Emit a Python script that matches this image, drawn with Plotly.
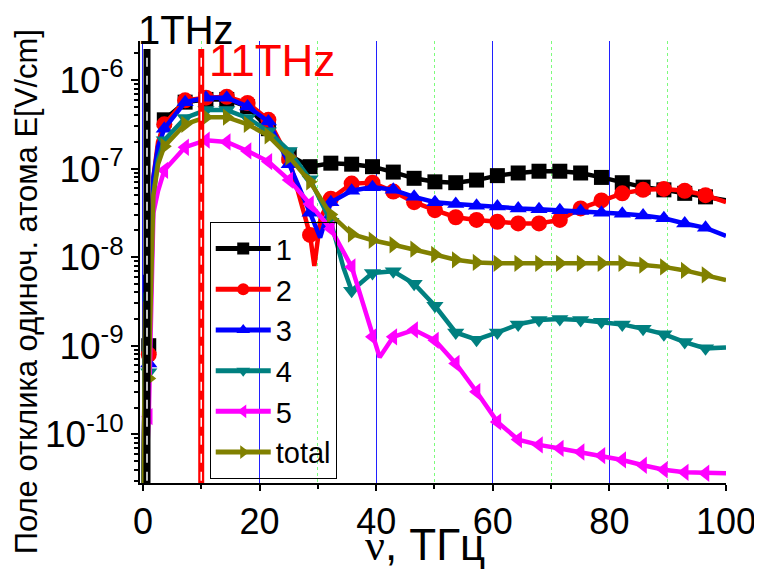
import plotly.graph_objects as go

# ---------------- data ----------------
X_GRID = [3.67, 7.24, 10.81, 14.38, 17.95, 21.52, 25.09, 28.66, 32.23, 35.80,
          39.37, 42.94, 46.51, 50.08, 53.65, 57.22, 60.79, 64.36, 67.93, 71.50,
          75.07, 78.64, 82.21, 85.78, 89.35, 92.92, 96.49]
X_START = [0.1, 0.4, 1.0, 1.8, 2.6]
X_END = [100.0]
MARKER_X = [1.0] + X_GRID

X1 = X_START + X_GRID + X_END
Y1 = [1.58e-11, 3.16e-9, 1.0e-9, 6.31e-8, 1.78e-7,
      3.55e-7, 5.62e-7, 6.03e-7, 6.03e-7, 5.01e-7, 2.82e-7, 1.41e-7, 1.05e-7, 1.15e-7, 1.12e-7,
      1.05e-7, 9.12e-8, 7.76e-8, 7.08e-8, 6.92e-8, 7.41e-8, 8.32e-8, 8.91e-8, 9.33e-8, 9.33e-8,
      8.91e-8, 7.94e-8, 6.92e-8, 6.17e-8, 5.75e-8, 5.25e-8, 4.79e-8,
      4.37e-8]

X2 = X_START + X_GRID[:8] + [29.4, 30.5] + X_GRID[8:] + X_END
Y2 = [1.58e-11, 5.01e-9, 7.94e-10, 7.94e-8, 2.0e-7,
      3.16e-7, 5.89e-7, 6.31e-7, 6.46e-7, 5.5e-7, 3.55e-7, 1.26e-7, 1.78e-8,
      7.94e-9, 2.82e-8,
      4.57e-8, 6.76e-8, 6.92e-8, 5.5e-8, 4.17e-8, 3.39e-8, 2.82e-8, 2.63e-8, 2.51e-8, 2.4e-8,
      2.4e-8, 2.63e-8, 3.55e-8, 4.37e-8, 5.25e-8, 5.75e-8, 5.89e-8, 5.62e-8, 5.01e-8,
      4.17e-8]

X3 = X_START + X_GRID[:8] + [30.4] + X_GRID[8:] + X_END
Y3 = [1.58e-11, 6.31e-9, 6.31e-10, 7.94e-8, 1.78e-7,
      2.82e-7, 5.62e-7, 6.31e-7, 6.31e-7, 5.01e-7, 3.39e-7, 1.12e-7, 3.16e-8,
      1.66e-8,
      4.17e-8, 5.62e-8, 6.17e-8, 5.75e-8, 4.79e-8, 4.17e-8, 3.98e-8, 3.8e-8, 3.72e-8, 3.55e-8,
      3.47e-8, 3.39e-8, 3.31e-8, 3.16e-8, 3.09e-8, 2.95e-8, 2.75e-8, 2.4e-8, 2.14e-8,
      1.74e-8]

X4 = X_START + X_GRID[:9] + [34.4] + X_GRID[9:] + X_END
Y4 = [1.58e-11, 3.98e-9, 5.01e-10, 5.01e-8, 1.26e-7,
      2.09e-7, 3.72e-7, 4.57e-7, 4.57e-7, 3.72e-7, 2.63e-7, 1.58e-7, 7.59e-8, 2.51e-8,
      7.59e-9,
      4.17e-9, 6.61e-9, 6.92e-9, 5.01e-9, 2.82e-9, 1.41e-9, 1.17e-9, 1.41e-9, 1.74e-9,
      1.95e-9, 2.0e-9, 1.95e-9, 1.86e-9, 1.74e-9, 1.55e-9, 1.35e-9, 1.1e-9, 9.33e-10,
      9.55e-10]

X5 = X_START + X_GRID[:11] + [40.6] + X_GRID[11:] + X_END
Y5 = [1.58e-11, 2.0e-11, 1.58e-10, 3.16e-8, 5.62e-8,
      9.55e-8, 1.74e-7, 2.09e-7, 2.0e-7, 1.58e-7, 1.2e-7, 7.41e-8, 3.98e-8, 2.09e-8, 7.76e-9,
      1.26e-9,
      7.41e-10,
      1.26e-9, 1.51e-9, 1.15e-9, 6.31e-10, 3.02e-10, 1.38e-10, 8.71e-11, 7.59e-11, 6.92e-11,
      6.31e-11, 5.75e-11, 5.13e-11, 4.47e-11, 3.98e-11, 3.72e-11, 3.63e-11,
      3.63e-11]

XT = X_START + X_GRID + X_END
YT = [1.58e-11, 3.16e-9, 4.27e-10, 5.01e-8, 1.12e-7,
      1.78e-7, 3.16e-7, 3.8e-7, 3.8e-7, 3.16e-7, 2.34e-7, 1.35e-7, 7.08e-8, 3.02e-8, 1.82e-8,
      1.55e-8, 1.38e-8, 1.23e-8, 1.07e-8, 9.33e-9, 8.71e-9, 8.51e-9, 8.51e-9, 8.51e-9, 8.51e-9,
      8.51e-9, 8.51e-9, 8.51e-9, 8.13e-9, 7.76e-9, 7.08e-9, 6.31e-9,
      5.5e-9]

NAMES = ["1", "2", "3", "4", "5", "total"]
Y_TICKVALS = [1e-10, 1e-9, 1e-8, 1e-7, 1e-6]
Y_TICKTEXT = ["10<sup>-10</sup>", "10<sup>-9</sup>", "10<sup>-8</sup>",
              "10<sup>-7</sup>", "10<sup>-6</sup>"]
LINE_1THZ = 0.7
LINE_11THZ = 10.0

# ---------------- figure ----------------
FONT = "Liberation Sans, Arial, sans-serif"
series = [
    (X1, Y1, "#000000", "square", 15),
    (X2, Y2, "#FF0000", "circle", 16),
    (X3, Y3, "#0000FF", "triangle-up", 15),
    (X4, Y4, "#008080", "triangle-down", 15),
    (X5, Y5, "#FF00FF", "triangle-left", 15),
    (XT, YT, "#808000", "triangle-right", 15),
]

fig = go.Figure()
for (xs, ys, col, sym, ms), name in zip(series, NAMES):
    sizes = [ms if any(abs(x - m) < 1e-6 for m in MARKER_X) else 0 for x in xs]
    fig.add_trace(go.Scatter(
        x=xs, y=ys, name=name, mode="lines+markers", legendgroup=name,
        line=dict(color=col, width=4.5),
        marker=dict(color=col, symbol=sym, size=sizes, opacity=1, line=dict(width=0)),
    ))

# vertical marker bars
for xv, col, w in [(LINE_1THZ, "black", 7), (LINE_11THZ, "red", 6)]:
    fig.add_shape(type="line", xref="x", yref="paper", x0=xv, x1=xv, y0=0, y1=0.982,
                  line=dict(color=col, width=w), layer="above")
    fig.add_shape(type="line", xref="x", yref="paper", x0=xv, x1=xv, y0=0.005, y1=0.977,
                  line=dict(color="white", width=1.5, dash="dash"), layer="above")

fig.add_annotation(text="1THz", xref="paper", yref="paper", x=-0.005, y=1.024,
                   xanchor="left", yanchor="middle", showarrow=False,
                   font=dict(family=FONT, size=40, color="black"), borderpad=0)
fig.add_annotation(text="11THz", xref="paper", yref="paper", x=0.116, y=0.957,
                   xanchor="left", yanchor="middle", showarrow=False,
                   font=dict(family=FONT, size=44, color="red"), borderpad=0)
fig.add_annotation(text="Поле отклика одиноч. атома E[V/cm]", xref="paper", yref="paper",
                   x=-0.194, y=0.432, xanchor="center", yanchor="middle", textangle=-90,
                   showarrow=False, font=dict(family=FONT, size=31, color="black"),
                   borderpad=0)
fig.add_annotation(text='<span style="font-family:Liberation Serif">ν</span>, ТГц',
                   xref="paper", yref="paper", x=0.486, y=-0.14,
                   xanchor="center", yanchor="middle", showarrow=False,
                   font=dict(family=FONT, size=44, color="black"), borderpad=0)

# the page adds an 8px body margin, so the figure is 8px smaller and margins 8px tighter
fig.update_layout(
    width=754, height=568,
    margin=dict(l=132, r=36, t=33, b=93, pad=0),
    paper_bgcolor="white", plot_bgcolor="white",
    font=dict(family=FONT, color="black"),
    showlegend=True,
    legend=dict(x=0.119, y=0.59, xanchor="left", yanchor="top",
                bgcolor="rgba(0,0,0,0)", bordercolor="black", borderwidth=1,
                font=dict(family=FONT, size=29, color="black"),
                itemsizing="constant", itemwidth=55, traceorder="grouped",
                tracegroupgap=0),
    xaxis=dict(range=[-0.5, 100], tick0=0, dtick=20, ticks="outside", ticklen=6,
               tickwidth=2, tickcolor="black", showline=True, linewidth=2,
               linecolor="black", showgrid=True, gridcolor="#2020FF", gridwidth=1,
               zeroline=False, automargin=False, tickfont=dict(family=FONT, size=36),
               minor=dict(tick0=0, dtick=10, ticks="outside", ticklen=4, tickwidth=2,
                          tickcolor="black", showgrid=True, gridcolor="#7CFC7C",
                          griddash="dot", gridwidth=1)),
    yaxis=dict(type="log", range=[-10.55, -5.56], tickmode="array",
               tickvals=Y_TICKVALS, ticktext=Y_TICKTEXT,
               ticks="outside", ticklen=7, tickwidth=2, tickcolor="black",
               showline=True, linewidth=2, linecolor="black", showgrid=False,
               zeroline=False, automargin=False, tickfont=dict(family=FONT, size=37),
               minor=dict(ticks="outside", ticklen=4, tickwidth=1.5, tickcolor="black",
                          dtick="D1", showgrid=False)),
)

fig.write_html("out.html")
